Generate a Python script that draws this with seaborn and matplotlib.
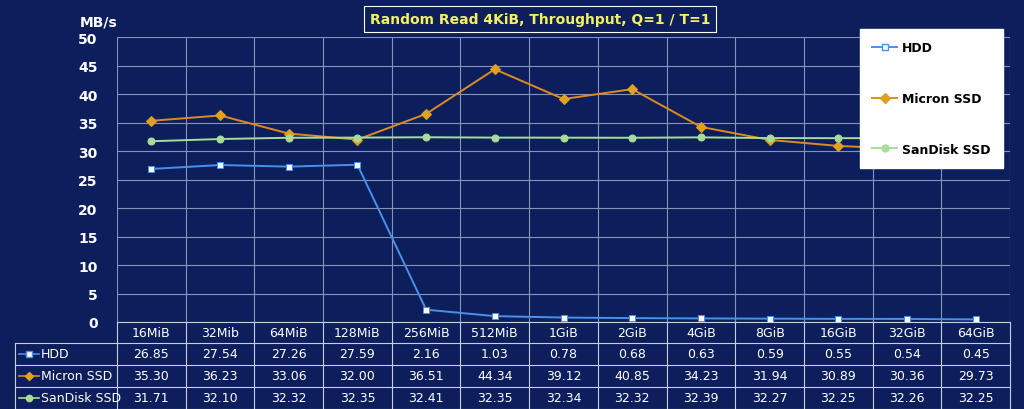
import numpy as np
import pandas as pd
import matplotlib
matplotlib.use("Agg")
import matplotlib.pyplot as plt
import seaborn as sns
from matplotlib.lines import Line2D

sizes = ["16MiB", "32Mib", "64MiB", "128MiB", "256MiB", "512MiB", "1GiB",
         "2GiB", "4GiB", "8GiB", "16GiB", "32GiB", "64GiB"]
hdd = [26.85, 27.54, 27.26, 27.59, 2.16, 1.03, 0.78, 0.68, 0.63, 0.59, 0.55, 0.54, 0.45]
micron = [35.30, 36.23, 33.06, 32.00, 36.51, 44.34, 39.12, 40.85, 34.23, 31.94, 30.89, 30.36, 29.73]
sandisk = [31.71, 32.10, 32.32, 32.35, 32.41, 32.35, 32.34, 32.32, 32.39, 32.27, 32.25, 32.26, 32.25]
series = ["HDD", "Micron SSD", "SanDisk SSD"]

BG = "#0c1f5c"
GRID = "#8a93b5"
styles = {
    "HDD": dict(color="#4a90e8", marker="s", mfc="white", mec="#4a90e8", ms=5),
    "Micron SSD": dict(color="#e08a1e", marker="D", mfc="#e0a020", mec="#e0a020", ms=5),
    "SanDisk SSD": dict(color="#a8dc98", marker="o", mfc="#a8dc98", mec="#a8dc98", ms=5),
}

df = pd.DataFrame({"size": sizes * 3,
                   "x": list(range(len(sizes))) * 3,
                   "value": hdd + micron + sandisk,
                   "series": [s for s in series for _ in sizes]})

W, H = 1024, 410
fig = plt.figure(figsize=(W / 100, H / 100), dpi=100, facecolor=BG)
L, R, T, B = 117, 1010, 38, 323
ax = fig.add_axes([L / W, 1 - B / H, (R - L) / W, (B - T) / H], facecolor=BG)

for s in series:
    st = styles[s]
    sns.lineplot(data=df[df.series == s], x="x", y="value", ax=ax, color=st["color"],
                 marker=st["marker"], markerfacecolor=st["mfc"], markeredgecolor=st["mec"],
                 markersize=st["ms"], linewidth=1.4, label=s, legend=False)

ax.set_xlim(-0.5, len(sizes) - 0.5)
ax.set_ylim(0, 50)
ax.set_yticks(range(0, 51, 5))
ax.set_xticks(np.arange(-0.5, len(sizes), 1))
ax.set_xticklabels([])
ax.grid(True, color=GRID, linewidth=0.8)
ax.set_axisbelow(True)
ax.tick_params(axis="y", colors="white", length=0, labelsize=10, pad=14)
ax.tick_params(axis="x", length=0)
for lab in ax.get_yticklabels():
    lab.set_fontweight("bold")
for sp in ax.spines.values():
    sp.set_visible(False)
ax.set_xlabel("")
ax.set_ylabel("")

fig.text(80 / W, 1 - 23 / H, "MB/s", color="white", fontsize=10, fontweight="bold", ha="left", va="center")
fig.text(540 / W, 1 - 20 / H, "Random Read 4KiB, Throughput, Q=1 / T=1", color="#f4f060",
         fontsize=10, fontweight="bold", ha="center", va="center",
         bbox=dict(facecolor=BG, edgecolor="white", linewidth=0.8, pad=4))

handles = [Line2D([], [], color=styles[s]["color"], marker=styles[s]["marker"],
                  markerfacecolor=styles[s]["mfc"], markeredgecolor=styles[s]["mec"],
                  markersize=5, linewidth=1.4) for s in series]
leg = fig.legend(handles, series, loc="upper right", bbox_to_anchor=(1003 / W, 1 - 30 / H),
                 frameon=True, facecolor="white", edgecolor="white", fancybox=False,
                 labelspacing=3.0, borderpad=1.0, handlelength=2.0, handletextpad=0.4,
                 borderaxespad=0, prop=dict(weight="bold", size=9))
leg.get_frame().set_alpha(1)

# data table in pixel coordinates
tab = fig.add_axes([0, 0, 1, 1], facecolor="none")
tab.set_xlim(0, W)
tab.set_ylim(H, 0)
tab.axis("off")
colw = (R - L) / len(sizes)
rows_y = [B, 344, 366, 388, 410]
lc = "#c8cde0"
tab.plot([L, R], [B, B], color=lc, lw=0.8)
for y in rows_y[1:]:
    tab.plot([15, R], [y, y], color=lc, lw=0.8)
tab.plot([15, 15], [rows_y[1], H], color=lc, lw=0.8)
for i in range(len(sizes) + 1):
    tab.plot([L + i * colw] * 2, [B, H], color=lc, lw=0.8)
for i, s in enumerate(sizes):
    tab.text(L + (i + 0.5) * colw, (rows_y[0] + rows_y[1]) / 2, s, color="white",
             fontsize=9, ha="center", va="center")
for r, (s, vals) in enumerate(zip(series, [hdd, micron, sandisk])):
    yc = (rows_y[r + 1] + rows_y[r + 2]) / 2
    st = styles[s]
    tab.plot([19, 39], [yc, yc], color=st["color"], lw=1.2)
    tab.plot([29], [yc], marker=st["marker"], mfc=st["mfc"], mec=st["mec"], ms=4.5)
    tab.text(41, yc, s, color="white", fontsize=9, ha="left", va="center")
    for i, v in enumerate(vals):
        tab.text(L + (i + 0.5) * colw, yc, f"{v:.2f}", color="white",
                 fontsize=9, ha="center", va="center")

fig.savefig("out.png", dpi=100, facecolor=BG)
